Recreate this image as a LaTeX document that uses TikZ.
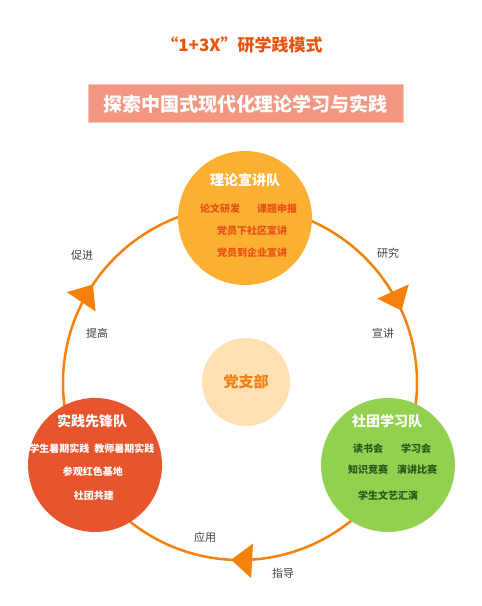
\documentclass[tikz,border=0pt]{standalone}
\usepackage{fontspec}
\setmainfont{Noto Sans CJK SC}
\usetikzlibrary{arrows.meta,decorations.markings}
\definecolor{headred}{RGB}{232,84,14}
\definecolor{bannerfill}{RGB}{241,150,128}
\definecolor{bannerline}{RGB}{250,196,182}
\definecolor{lixianfill}{RGB}{251,176,50}
\definecolor{lixiantext}{RGB}{232,80,20}
\definecolor{xianfengfill}{RGB}{232,84,44}
\definecolor{shetuanfill}{RGB}{146,208,80}
\definecolor{shetuantext}{RGB}{40,88,28}
\definecolor{dangfill}{RGB}{255,224,178}
\definecolor{dangtext}{RGB}{240,128,20}
\definecolor{ringorange}{RGB}{245,128,10}
\definecolor{cuegray}{RGB}{64,64,64}
\tikzset{
  team/.style={circle, minimum size=134pt, inner sep=0pt},
  teamtitle/.style={font=\bfseries\fontsize{14}{16}\selectfont, text=white},
  item/.style={font=\bfseries\fontsize{10}{12}\selectfont},
  cue/.style={font=\fontsize{11}{13}\selectfont, text=cuegray},
  ring/.style={draw=ringorange, line width=2.5pt},
  ringtip/.tip={Triangle[length=21pt,width=34pt]}
}

\begin{document}
\begin{tikzpicture}[x=1pt,y=1pt]
  \useasboundingbox (0,0) rectangle (482,606);
  % heading and banner
  \node[font=\bfseries\fontsize{17}{19}\selectfont, text=headred] (heading) at (242,561) {“1+3X”研学践模式};
  \node[fill=bannerfill, draw=bannerline, line width=1pt, minimum width=315pt, minimum height=38pt,
        font=\bfseries\fontsize{19}{21}\selectfont, text=white] (banner) at (245.5,502) {探索中国式现代化理论学习与实践};
  % cycle ring with three arrow heads
  \coordinate (ring) at (240,223);
  \draw[ring, postaction={decorate}, decoration={markings,
      mark=at position 0.183 with {\arrow{ringtip}},
      mark=at position 0.508 with {\arrow{ringtip}},
      mark=at position 0.844 with {\arrow{ringtip}}}]
    (ring) ++(90:177) arc[start angle=90, end angle=-270, radius=177];
  % centre
  \node[circle, fill=dangfill, minimum size=88pt, inner sep=0pt,
        font=\bfseries\fontsize{15}{17}\selectfont, text=dangtext] (dang) at (246,224) {党支部};
  % top team
  \node[team, fill=lixianfill] (lixian) at (245,388) {};
  \node[teamtitle] (lixiantitle) at (245,426) {理论宣讲队};
  \node[item, text=lixiantext] (lunwen) at (220,397) {论文研发};
  \node[item, text=lixiantext] (keti) at (277,397) {课题申报};
  \node[item, text=lixiantext] (shequ) at (252,375) {党员下社区宣讲};
  \node[item, text=lixiantext] (qiye) at (252,353) {党员到企业宣讲};
  % left team
  \node[team, fill=xianfengfill] (xianfeng) at (95,141) {};
  \node[teamtitle] (xianfengtitle) at (92,185) {实践先锋队};
  \node[item, text=white] (shuqi) at (92,157) {学生暑期实践\hspace{5pt}教师暑期实践};
  \node[item, text=white] (hongse) at (93,134) {参观红色基地};
  \node[item, text=white] (gongjian) at (94,110) {社团共建};
  % right team
  \node[team, fill=shetuanfill] (shetuan) at (388,141) {};
  \node[teamtitle] (shetuantitle) at (387,185) {社团学习队};
  \node[item, text=shetuantext] (dushu) at (368,157) {读书会};
  \node[item, text=shetuantext] (xuexi) at (416,157) {学习会};
  \node[item, text=shetuantext] (zhishi) at (368,136) {知识竞赛};
  \node[item, text=shetuantext] (yanjiang) at (417,136) {演讲比赛};
  \node[item, text=shetuantext] (wenyi) at (388,110) {学生文艺汇演};
  % ring cues
  \node[cue] (cujin) at (82,351) {促进};
  \node[cue] (tigao) at (97,273) {提高};
  \node[cue] (yanjiu) at (388,353) {研究};
  \node[cue] (xuanjiang) at (383,273) {宣讲};
  \node[cue] (yingyong) at (205,69) {应用};
  \node[cue] (zhidao) at (283,33) {指导};
\end{tikzpicture}
\end{document}
